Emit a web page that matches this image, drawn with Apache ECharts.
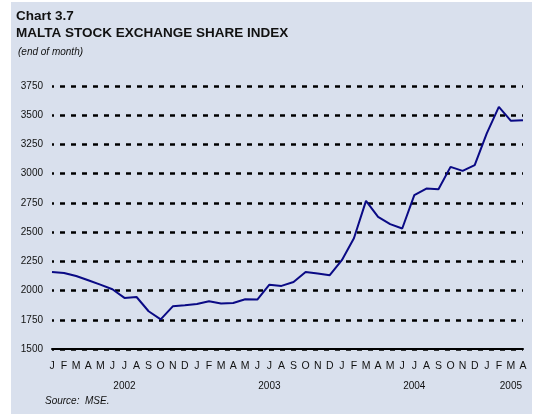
<!DOCTYPE html>
<html>
<head>
<meta charset="utf-8">
<script src="https://cdn.jsdelivr.net/npm/echarts@6/dist/echarts.min.js"></script>
<style>
  html, body { margin: 0; padding: 0; background: #ffffff; }
  #chart { width: 537px; height: 414px; }
</style>
</head>
<body>
<div id="chart"></div>
<script>
// months Jan 2002 - Apr 2005
const months = ['J','F','M','A','M','J','J','A','S','O','N','D',
                'J','F','M','A','M','J','J','A','S','O','N','D',
                'J','F','M','A','M','J','J','A','S','O','N','D',
                'J','F','M','A'];
// year label sits under this month index
const yearLabels = {6: '2002', 18: '2003', 30: '2004', 38: '2005'};
const indexValues = [
  2159, 2151, 2125, 2088, 2051, 2011, 1937, 1945, 1823, 1754, 1865, 1874,
  1885, 1908, 1889, 1894, 1925, 1923, 2050, 2040, 2073, 2159, 2145, 2131,
  2260, 2448, 2767, 2630, 2568, 2531, 2816, 2873, 2867, 3058, 3024, 3073,
  3344, 3572, 3452, 3458
];

const chart = echarts.init(document.getElementById('chart'));
const font = 'Liberation Sans, Arial, sans-serif';

const option = {
    animation: false,
    backgroundColor: '#ffffff',
    graphic: [
        {
            type: 'rect', z: -10, silent: true,
            shape: {x: 11, y: 2, width: 521, height: 412},
            style: {fill: '#d9e0ed'}
        }
    ],
    title: [
        {text: 'Chart 3.7', left: 16, top: 9, padding: 0,
         textStyle: {fontFamily: font, fontSize: 13.5, fontWeight: 'bold', color: '#111'}},
        {text: 'MALTA STOCK EXCHANGE SHARE INDEX', left: 16, top: 26, padding: 0,
         textStyle: {fontFamily: font, fontSize: 13.5, fontWeight: 'bold', color: '#111'}},
        {text: '(end of month)', left: 18, top: 47, padding: 0,
         textStyle: {fontFamily: font, fontSize: 10, fontStyle: 'italic', fontWeight: 'normal', color: '#111'}},
        {text: 'Source:  MSE.', left: 45, top: 396, padding: 0,
         textStyle: {fontFamily: font, fontSize: 10, fontStyle: 'italic', fontWeight: 'normal', color: '#111'}}
    ],
    grid: {left: 52, right: 14, top: 86, bottom: 65},
    xAxis: [
        {
            type: 'category', data: months, boundaryGap: false,
            axisLine: {lineStyle: {color: '#000', width: 2}},
            axisTick: {show: false},
            axisLabel: {fontFamily: font, fontSize: 10.5, color: '#111', margin: 12, interval: 0}
        },
        {
            type: 'category', data: months, boundaryGap: false, position: 'bottom', offset: 20,
            axisLine: {show: false}, axisTick: {show: false},
            axisLabel: {
                fontFamily: font, fontSize: 10, color: '#111', margin: 12,
                interval: (i) => yearLabels[i] !== undefined,
                formatter: (v, i) => yearLabels[i] || ''
            }
        }
    ],
    yAxis: {
        type: 'value', min: 1500, max: 3750, interval: 250,
        axisLine: {show: false}, axisTick: {show: false},
        axisLabel: {fontFamily: font, fontSize: 10, color: '#111', margin: 9,
                    formatter: (v) => String(v)},
        splitLine: {lineStyle: {color: '#000', width: 2.5, type: [5, 6], dashOffset: 3}}
    },
    series: [
        {
            type: 'line', data: indexValues, xAxisIndex: 0,
            showSymbol: false,
            lineStyle: {color: '#0a0a85', width: 2}
        }
    ]
};
chart.setOption(option);
</script>
</body>
</html>
